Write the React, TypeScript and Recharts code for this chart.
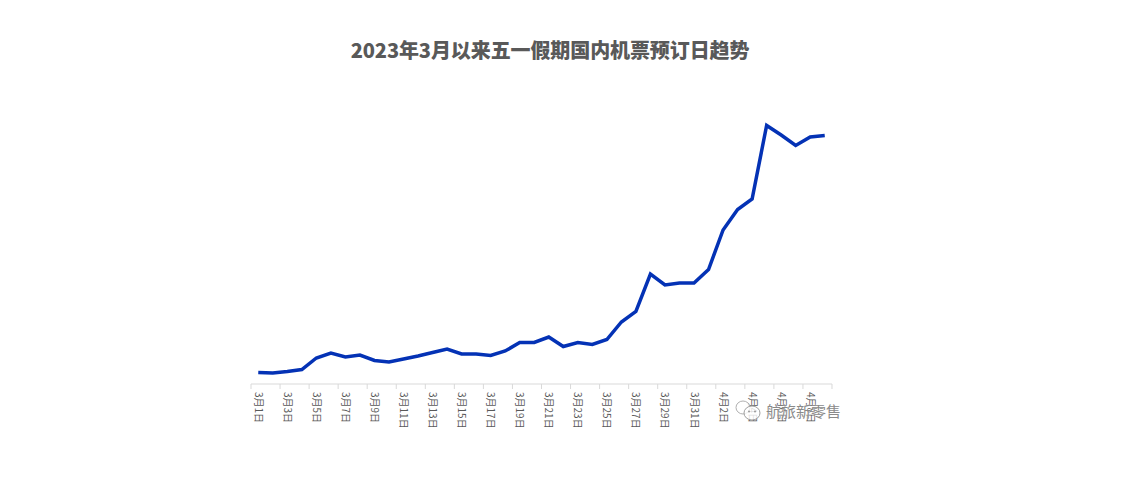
import { Line, LineChart, XAxis, YAxis } from "recharts";

// 3月1日 .. 4月9日 (relative index, no y axis in the original)
const days = [
  "3月1日", "3月2日", "3月3日", "3月4日", "3月5日", "3月6日", "3月7日", "3月8日",
  "3月9日", "3月10日", "3月11日", "3月12日", "3月13日", "3月14日", "3月15日", "3月16日",
  "3月17日", "3月18日", "3月19日", "3月20日", "3月21日", "3月22日", "3月23日", "3月24日",
  "3月25日", "3月26日", "3月27日", "3月28日", "3月29日", "3月30日", "3月31日",
  "4月1日", "4月2日", "4月3日", "4月4日", "4月5日", "4月6日", "4月7日", "4月8日", "4月9日",
];
const bookings = [
  11.5, 11, 12.5, 14.5, 26, 31, 27, 29, 23.5, 22, 25, 28, 31.5, 35, 30, 30, 28.5, 33, 41.5,
  41.5, 47, 37.5, 41.5, 39.5, 44.5, 62, 72.5, 110, 99, 101, 101, 114.5, 154, 174.5, 185,
  258.5, 249, 238.5, 247, 248.5,
];

const data = days.map((day, i) => ({ day, value: bookings[i] }));

const title = "2023年3月以来五一假期国内机票预订日趋势";
const watermark = "航旅新零售";

const bandWidth = 14.52;

function DayTick({ x, y, payload }: any) {
  const left = x - bandWidth / 2;
  return (
    <g>
      <line x1={left} x2={left} y1={y - 8} y2={y - 3} stroke="#d9d9d9" />
      {payload.value === "4月8日" && (
        <line x1={left + bandWidth * 2} x2={left + bandWidth * 2} y1={y - 8} y2={y - 3} stroke="#d9d9d9" />
      )}
      <text
        transform={`translate(${x + 1},${y}) rotate(90)`}
        fontSize={10}
        fill="#595959"
        dominantBaseline="central"
        fontFamily="'Noto Sans CJK SC', sans-serif"
      >
        {payload.value}
      </text>
    </g>
  );
}

export default function App() {
  return (
    <div style={{ position: "absolute", left: 0, top: 0, width: 1132, height: 483, background: "#fff" }}>
      <div
        style={{
          position: "absolute",
          left: 0,
          width: 1100,
          top: 36,
          textAlign: "center",
          fontSize: 20,
          lineHeight: "28px",
          fontWeight: 900,
          letterSpacing: -0.1,
          color: "#595959",
          fontFamily: "'Noto Sans CJK SC', sans-serif",
        }}
      >
        {title}
      </div>
      <LineChart
        width={1132}
        height={483}
        data={data}
        margin={{ top: 84, right: 300, bottom: 0, left: 251 }}
        style={{ position: "absolute", left: 0, top: 0 }}
      >
        <XAxis
          dataKey="day"
          interval={1}
          axisLine={{ stroke: "#d9d9d9" }}
          tickLine={false}
          tick={<DayTick />}
          height={99}
          scale="band"
        />
        <YAxis hide domain={[0, 300]} />
        <Line
          dataKey="value"
          stroke="#0432b5"
          strokeWidth={3.5}
          dot={false}
          isAnimationActive={false}
        />
      </LineChart>
      <svg style={{ position: "absolute", left: 735, top: 400 }} width={28} height={24} viewBox="0 0 28 24">
        <ellipse cx="8" cy="7.5" rx="7" ry="6.5" fill="#fff" fillOpacity={0.8} stroke="#b0b0b0" />
        <ellipse cx="17" cy="13" rx="8" ry="7" fill="#fff" fillOpacity={0.8} stroke="#a0a0a0" />
        <circle cx="14" cy="11.5" r="1" fill="#999" />
        <circle cx="20" cy="11.5" r="1" fill="#999" />
      </svg>
      <div
        style={{
          position: "absolute",
          left: 766,
          top: 400,
          fontSize: 15,
          lineHeight: "22px",
          color: "#8a8a8a",
          fontFamily: "'Noto Sans CJK SC', sans-serif",
          whiteSpace: "nowrap",
          textShadow: "0 0 2px #fff",
        }}
      >
        {watermark}
      </div>
    </div>
  );
}
